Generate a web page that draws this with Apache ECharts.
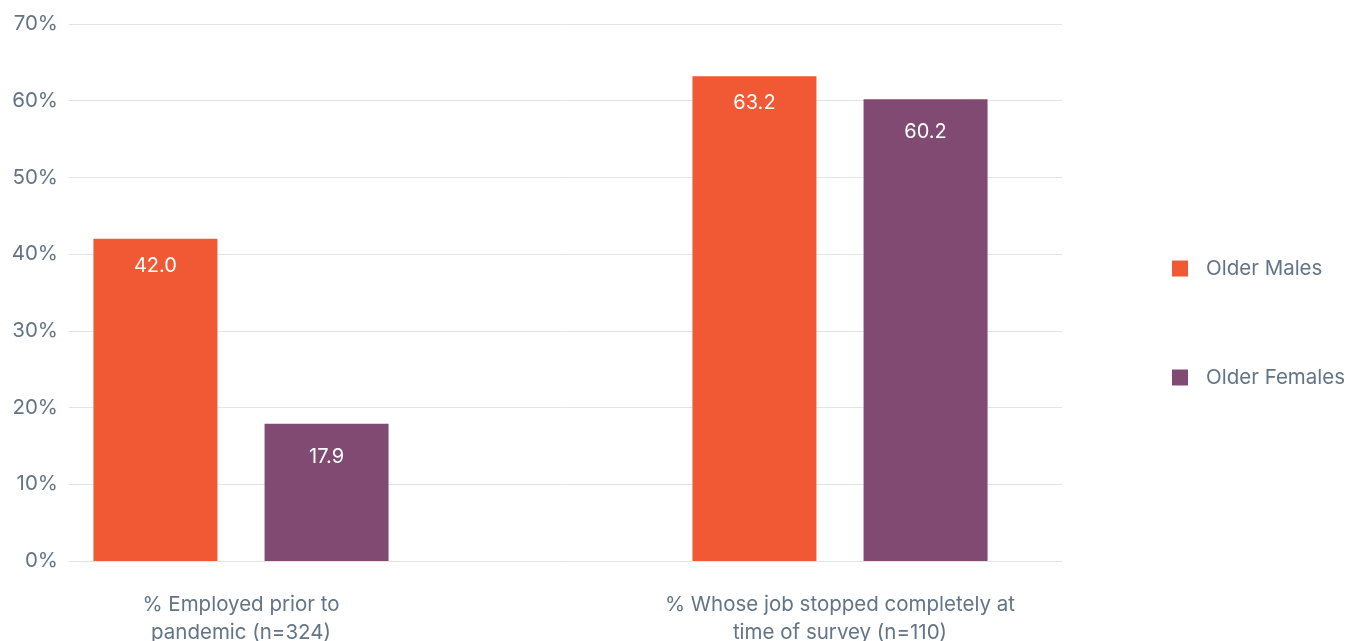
<!DOCTYPE html>
<html>
<head>
<meta charset="utf-8">
<script src="https://cdn.jsdelivr.net/npm/echarts@6/dist/echarts.min.js"></script>
<style>
  html, body { margin: 0; padding: 0; background: #fff; }
  #main { width: 1352px; height: 641px; }
</style>
</head>
<body>
<div id="main"></div>
<script>
// data
const categories = [
  "% Employed prior to\npandemic (n=324)",
  "% Whose job stopped completely at\ntime of survey (n=110)",
];
const olderMales = [42.0, 63.2];
const olderFemales = [17.9, 60.2];
const yTicks = { min: 0, max: 70, interval: 10 };

const textColor = "#627486";
const fontFamily = "Inter, 'Noto Sans', sans-serif";

let dom = document.getElementById("main");
let myChart = echarts.init(dom, null, { renderer: "canvas", useDirtyRect: false });

let option = {
  animation: false,
  textStyle: { fontFamily: fontFamily },
  legend: {
    orient: "vertical",
    left: 1172,
    top: 258,
    padding: 0,
    itemWidth: 16,
    itemHeight: 16,
    itemGap: 88,
    icon: "rect",
    textStyle: { color: textColor, fontSize: 20.5, fontFamily: fontFamily, padding: [0, 0, 0, 13] },
    data: ["Older Males", "Older Females"],
  },
  grid: [
    // grid 0: value axis with split lines
    { left: 69, right: 290, top: 24, bottom: 80, outerBoundsMode: "none" },
    // grid 1: wider band for the bars so category centres fall where they do in the reference
    { left: -58.5, right: 212.5, top: 24, bottom: 80, outerBoundsMode: "none" },
  ],
  xAxis: [
    {
      type: "category",
      gridIndex: 0,
      data: categories,
      show: false,
    },
    {
      type: "category",
      gridIndex: 1,
      data: categories,
      axisLine: { show: false },
      axisTick: { show: false },
      axisLabel: {
        color: textColor,
        fontSize: 20.5,
        lineHeight: 28,
        margin: 30,
        fontFamily: fontFamily,
      },
    },
  ],
  yAxis: [
    {
      type: "value",
      gridIndex: 0,
      min: yTicks.min,
      max: yTicks.max,
      interval: yTicks.interval,
      axisLine: { show: false },
      axisTick: { show: false },
      axisLabel: {
        formatter: "{value}%",
        color: textColor,
        fontSize: 20.5,
        margin: 11,
        fontFamily: fontFamily,
      },
      splitLine: { lineStyle: { color: "#e4e4e4", width: 1 } },
    },
    {
      type: "value",
      gridIndex: 1,
      min: yTicks.min,
      max: yTicks.max,
      interval: yTicks.interval,
      show: false,
    },
  ],
  series: [
    {
      name: "Older Males",
      type: "bar",
      xAxisIndex: 1,
      yAxisIndex: 1,
      data: olderMales,
      barWidth: 124,
      barGap: "38%",
      itemStyle: { color: "#F15934" },
      label: {
        show: true,
        position: "insideTop",
        distance: 17,
        color: "#ffffff",
        fontSize: 20,
        fontFamily: fontFamily,
        formatter: (p) => p.value.toFixed(1),
      },
    },
    {
      name: "Older Females",
      type: "bar",
      xAxisIndex: 1,
      yAxisIndex: 1,
      data: olderFemales,
      barWidth: 124,
      barGap: "38%",
      itemStyle: { color: "#804A73" },
      label: {
        show: true,
        position: "insideTop",
        distance: 23,
        color: "#ffffff",
        fontSize: 20,
        fontFamily: fontFamily,
        formatter: (p) => p.value.toFixed(1),
      },
    },
  ],
};

if (option && typeof option === "object") {
  myChart.setOption(option);
}

window.addEventListener("resize", myChart.resize);
</script>
</body>
</html>
